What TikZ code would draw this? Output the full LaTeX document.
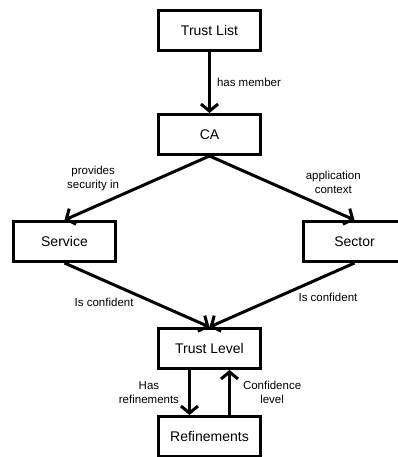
\documentclass[tikz,border=0pt]{standalone}
\usepackage{fontspec}
\setmainfont{Liberation Sans}
\usetikzlibrary{
  positioning,
  arrows.meta
}

\begin{document}
\begin{tikzpicture}[
  x=1pt, y=1pt,
  box/.style={draw, rectangle, line width=3pt, minimum width=102pt, minimum height=40pt, align=center, font=\fontsize{14}{16}\selectfont},
  rel/.style={font=\fontsize{11.5}{14}\selectfont, align=center, inner sep=2pt},
  arrow/.style={line width=3pt, -{Straight Barb[length=7pt, width=17pt, line width=3pt]}}
]

% Frame
\clip (0,0) rectangle (398,-457);

% Top
\node[box] (list) at (209.5,-30.5) {Trust List};
\node[box, below=61pt of list] (ca) {CA};

% Middle
\node[box, below left=64pt and 40pt of ca] (service) {Service};
\node[box, below right=64pt and 40pt of ca] (sector) {Sector};

% Bottom
\node[box, below=171pt of ca] (level) {Trust Level};
\node[box, below=45pt of level] (refine) {Refinements};

% Arrows
\draw[arrow] (list) -- node[rel, right, xshift=4pt] {has member} (ca);
\draw[arrow] (ca.south) -- node[rel, pos=0.6, above left] {provides\\security in} (service.north);
\draw[arrow] (ca.south) -- node[rel, pos=0.64, above right] {application\\context} (sector.north);
\draw[arrow] (service.south) -- node[rel, pos=0.5, below left] {Is confident} (level.north);
\draw[arrow] (sector.south) -- node[rel, pos=0.41, below right] {Is confident} (level.north);
\draw[arrow] ([xshift=-20pt]level.south) -- node[rel, left, xshift=-7pt] {Has\\refinements} ([xshift=-20pt]refine.north);
\draw[arrow] ([xshift=20pt]refine.north) -- node[rel, right, xshift=10pt] {Confidence\\level} ([xshift=20pt]level.south);

\end{tikzpicture}
\end{document}
